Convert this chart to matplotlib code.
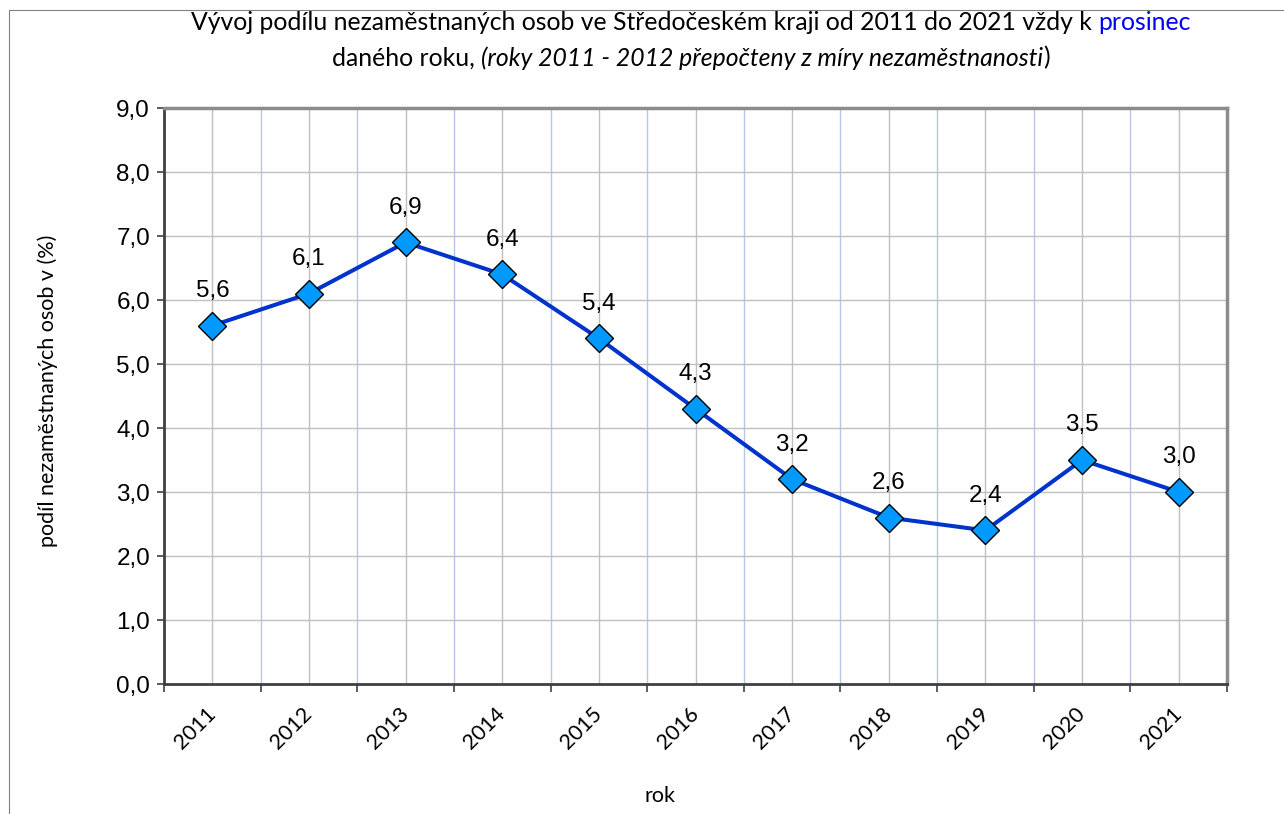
import matplotlib.pyplot as plt
from matplotlib.patches import Rectangle
from matplotlib.ticker import FixedLocator, FuncFormatter

# data
years = ["2011", "2012", "2013", "2014", "2015", "2016", "2017", "2018", "2019", "2020", "2021"]
share = [5.6, 6.1, 6.9, 6.4, 5.4, 4.3, 3.2, 2.6, 2.4, 3.5, 3.0]

# colours
line_blue = "#0033cc"
marker_blue = "#0099ff"
grid_grey = "#c0c0c0"
grid_blue = "#b4c7e7"

W, H = 1284, 814
fig = plt.figure(figsize=(W / 100, H / 100), dpi=100)

# thin frame of the chart object (left and top visible)
fig.add_artist(Rectangle((9 / W, -0.1), 1.2, 1 - 10 / H + 0.1, transform=fig.transFigure,
                         fill=False, ec="#808080", lw=0.8))

ax = fig.add_axes([164 / W, 1 - 684 / H, (1227 - 164) / W, (684 - 108) / H])
x = list(range(len(years)))

ax.plot(x, share, color=line_blue, lw=2.9, marker="D", ms=14, mfc=marker_blue,
        mec="black", mew=1, zorder=5, clip_on=False)

for xi, v in zip(x, share):
    ax.annotate(f"{v:.1f}".replace(".", ","), (xi, v), xytext=(0, 17), textcoords="offset points",
                ha="center", va="bottom", fontsize=17.5, family="Liberation Sans")

ax.set_xlim(-0.5, len(years) - 0.5)
ax.set_ylim(0, 9)

# y axis
ax.set_yticks([i for i in range(10)])
ax.yaxis.set_major_formatter(FuncFormatter(lambda v, p: f"{v:.1f}".replace(".", ",")))
ax.tick_params(axis="y", length=5, width=1.2, color="#404040", labelsize=17.5, pad=5)
for t in ax.get_yticklabels():
    t.set_family("Liberation Sans")

# x axis: labels at centres, ticks at boundaries
ax.set_xticks(x)
ax.set_xticklabels(years, rotation=45, ha="right", va="center", rotation_mode="anchor",
                   fontsize=15.5, family="Lato")
ax.xaxis.set_minor_locator(FixedLocator([i + 0.5 for i in range(-1, len(years))]))
ax.tick_params(axis="x", which="major", length=0, pad=19)
ax.tick_params(axis="x", which="minor", length=6, width=1.2, color="#404040")

ax.grid(axis="y", color=grid_grey, lw=1)
ax.grid(axis="x", which="major", color=grid_grey, lw=1)
ax.grid(axis="x", which="minor", color=grid_blue, lw=1)
ax.set_axisbelow(True)

for side in ["left", "bottom"]:
    ax.spines[side].set_color("#404040")
    ax.spines[side].set_linewidth(2)
for side in ["top", "right"]:
    ax.spines[side].set_color("#8c8c8c")
    ax.spines[side].set_linewidth(2.5)

fig.text(660 / W, 1 - 796 / H, "rok", ha="center", va="center", fontsize=15.5, family="Lato")
fig.text(48 / W, 1 - 391 / H, "podíl nezaměstnaných osob v (%)", ha="center", va="center",
         rotation=90, fontsize=15.5, family="Lato")

# title in pieces (mixed colour and style)
title_size = 17.8
line1 = [("Vývoj podílu nezaměstnaných osob ve Středočeském kraji od 2011 do 2021 vždy k ", "black", "normal"),
         ("prosinec", "#0000ff", "normal")]
line2 = [("daného roku, ", "black", "normal"),
         ("(roky 2011 - 2012 přepočteny z míry nezaměstnanosti", "black", "italic"),
         (")", "black", "normal")]

renderer = fig.canvas.get_renderer()


def put_line(parts, ypix, xcenter=691):
    texts = [fig.text(0, 1 - ypix / H, s, color=c, style=st, fontsize=title_size,
                      family="Lato", va="center", ha="left") for s, c, st in parts]
    widths = [t.get_window_extent(renderer).width for t in texts]
    xp = xcenter - sum(widths) / 2
    for t, w in zip(texts, widths):
        t.set_x(xp / W)
        xp += w


put_line(line1, 23)
put_line(line2, 58)

fig.savefig("out.png", dpi=100)
